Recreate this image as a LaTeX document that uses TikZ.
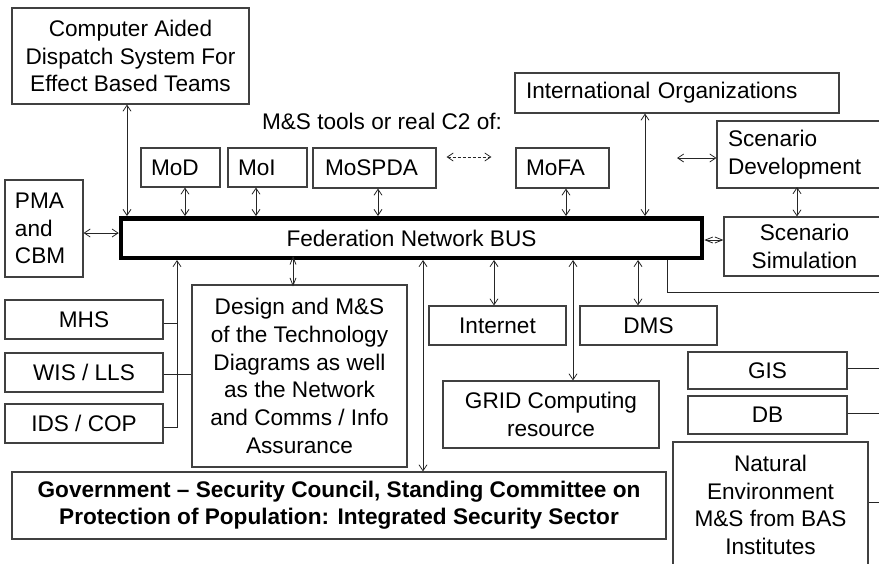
\documentclass[tikz,border=0pt]{standalone}
\usepackage{fontspec}
\setmainfont{Liberation Sans}
\usetikzlibrary{arrows.meta}
\begin{document}
\begin{tikzpicture}[x=1pt,y=-1pt,
  every node/.style={font=\fontsize{22.6}{27.8}\selectfont},
  box/.style={draw=black!75, line width=1.1pt, rectangle, inner sep=0pt, align=center},
  lbox/.style={box, align=left, inner xsep=10pt},
  bus/.style={draw=black, line width=4.5pt, rectangle, inner sep=0pt, align=center},
  tip/.style={Straight Barb[length=6pt,width=8pt]},
  dbl/.style={{Straight Barb[length=6pt,width=8pt]}-{Straight Barb[length=6pt,width=8pt]}, line width=0.8pt, draw=black!85},
  sgl/.style={-{Straight Barb[length=6pt,width=8pt]}, line width=0.8pt, draw=black!85},
  dia/.style={{Straight Barb[length=7.5pt,width=6pt]}-{Straight Barb[length=7.5pt,width=6pt]}, line width=0.8pt, draw=black!85},
  ln/.style={line width=0.8pt, draw=black!85}
]
\useasboundingbox (0,0) rectangle (879,563);
\clip (0,0) rectangle (879,563);

% nodes
\node[box, minimum width=237pt, minimum height=96pt] (cad) at (130.5,56) {Computer Aided\\Dispatch System For\\Effect Based Teams};
\node (lbl) at (382,121) {M\&S tools or real C2 of:};
\node[lbox, text width=59pt, minimum height=39pt] (mod) at (180.5,167.5) {MoD};
\node[lbox, text width=59pt, minimum height=39pt] (moi) at (267.5,167.5) {MoI};
\node[lbox, inner xsep=12pt, text width=99pt, minimum height=40pt] (mospda) at (374.5,168) {MoSPDA};
\node[lbox, text width=73pt, minimum height=40pt] (mofa) at (562.5,168) {MoFA};
\node[lbox, inner xsep=11pt, text width=302pt, minimum height=40pt] (intl) at (677,93) {International Organizations};
\node[lbox, inner xsep=11pt, text width=146pt, minimum height=67pt] (scendev) at (801,154.5) {Scenario\\Development};
\node[box, minimum width=161pt, minimum height=59pt] (scensim) at (804.5,246.5) {Scenario\\Simulation};
\node[bus, minimum width=581pt, minimum height=39.5pt] (bus) at (411.5,238) {Federation Network BUS};
\node[lbox, text width=58pt, minimum height=97pt] (pma) at (44,228.5) {PMA\\and\\CBM};
\node[box, minimum width=158pt, minimum height=39pt] (mhs) at (84,319.5) {MHS};
\node[box, minimum width=158pt, minimum height=39pt] (wis) at (84,372.5) {WIS / LLS};
\node[box, minimum width=158pt, minimum height=39pt] (ids) at (84,423.5) {IDS / COP};
\node[box, minimum width=215pt, minimum height=182pt] (design) at (299.5,376) {Design and M\&S\\of the Technology\\Diagrams as well\\as the Network\\and Comms / Info\\Assurance};
\node[box, minimum width=654pt, minimum height=67pt, font=\fontsize{22.6}{27.2}\selectfont\bfseries] (gov) at (339,505.5) {Government -- Security Council, Standing Committee on\\Protection of Population: Integrated Security Sector};
\node[box, minimum width=137pt, minimum height=39pt] (internet) at (497.5,325.5) {Internet};
\node[box, minimum width=137pt, minimum height=39pt] (dms) at (648.5,325.5) {DMS};
\node[box, minimum width=216pt, minimum height=67pt] (grid) at (551,414.5) {GRID Computing\\resource};
\node[box, minimum width=159pt, minimum height=37pt] (gis) at (767.5,370.5) {GIS};
\node[box, minimum width=159pt, minimum height=38pt] (db) at (767.5,415) {DB};
\node[box, minimum width=195pt, minimum height=126pt] (natenv) at (770.5,505) {Natural\\Environment\\M\&S from BAS\\Institutes};

% free-end coordinates
\coordinate (sdl) at (677,158);
\coordinate (r1) at (885,292);
\coordinate (r2) at (885,368);
\coordinate (r3) at (885,413);
\coordinate (r4) at (885,502);
\coordinate (j1) at (177,323);

% connectors
\draw[dbl] (cad.south -| 127,0) -- (bus.north -| 127,0);
\draw[dbl] (mod.south -| 185,0) -- (bus.north -| 185,0);
\draw[dbl] (moi.south -| 256,0) -- (bus.north -| 256,0);
\draw[dbl] (mospda.south -| 378,0) -- (bus.north -| 378,0);
\draw[dbl] (mofa.south -| 566,0) -- (bus.north -| 566,0);
\draw[dbl] (intl.south -| 645,0) -- (bus.north -| 645,0);
\draw[dbl, dashed, dash pattern=on 3pt off 2pt] ([xshift=10pt]mospda.east |- 0,157) -- ([xshift=-24pt]mofa.west |- 0,157);
\draw[dbl] (sdl) -- (scendev.west |- sdl);
\draw[dbl] ([yshift=1.5pt]scendev.south -| 797,0) -- (scensim.north -| 797,0);
\draw[dia] (bus.east |- 0,240) -- (scensim.west |- 0,240);
\draw[dbl] (pma.east |- 0,233) -- (bus.west |- 0,233);
\draw[ln] (bus.south -| 667,0) |- (r1);
\draw[sgl] (ids.east |- 0,427) -| (bus.south -| 177,0);
\draw[ln] (mhs.east |- j1) -- (j1);
\draw[ln] (wis.east |- 0,374) -- (design.west |- 0,374);
\draw[dia] ([yshift=4pt]bus.south -| 293,0) -- ([yshift=-2pt]design.north -| 293,0);
\draw[dbl] (bus.south -| 423,0) -- (gov.north -| 423,0);
\draw[dbl] (bus.south -| 494,0) -- (internet.north -| 494,0);
\draw[dbl] (bus.south -| 573,0) -- (grid.north -| 573,0);
\draw[dbl] (bus.south -| 638,0) -- (dms.north -| 638,0);
\draw[ln] (gis.east |- r2) -- (r2);
\draw[ln] (db.east |- r3) -- (r3);
\draw[ln] (natenv.east |- r4) -- (r4);
\end{tikzpicture}
\end{document}
